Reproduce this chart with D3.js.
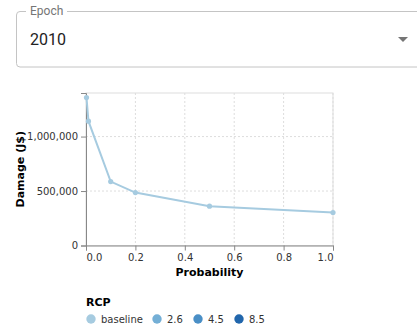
<!DOCTYPE html>
<html>
<head>
<meta charset="utf-8">
<script src="https://cdn.jsdelivr.net/npm/d3@7"></script>
<style>
  body { margin: 0; background: #fff; font-family: Roboto, "DejaVu Sans", sans-serif; }
  svg { display: block; }
</style>
</head>
<body>
<svg id="chart" width="417" height="334"></svg>
<script>
const epochLabel = "Epoch";
const epochValue = "2010";
const probabilities = [0.002, 0.01, 0.1, 0.2, 0.5, 1.0];
const damageBaseline = [1358000, 1141000, 587000, 486000, 361000, 303000];
const xTicks = [0.0, 0.2, 0.4, 0.6, 0.8, 1.0];
const yTicks = [0, 500000, 1000000];
const rcpCategories = ["baseline", "2.6", "4.5", "8.5"];
const rcpColors = ["#a6cbe0", "#74afd6", "#4a8fc6", "#2166ac"];

(function () {
const svg = d3.select("#chart");

// Select box (outlined)
const sel = svg.append("g");
sel.append("path")
  .attr("d", "M 26 11.5 L 20 11.5 Q 16.5 11.5 16.5 15 L 16.5 63.5 Q 16.5 67 20 67 L 420 67 M 67 11.5 L 420 11.5")
  .attr("fill", "none").attr("stroke", "#c4c4c4").attr("stroke-width", 1);
sel.append("text").attr("x", 30).attr("y", 15).attr("font-family", "Roboto, sans-serif")
  .attr("font-size", 12).attr("fill", "#757575").text(epochLabel);
sel.append("text").attr("x", 30).attr("y", 45).attr("font-family", "Roboto, sans-serif")
  .attr("font-size", 16).attr("fill", "#222").text(epochValue);
sel.append("path").attr("d", "M 398 37 L 408 37 L 403 42 Z").attr("fill", "#757575");

// Chart
const pLeft = 86, pRight = 333, pTop = 93, pBottom = 245.5;
const x = d3.scaleLinear().domain([0, 1]).range([pLeft, pRight]);
const y = d3.scaleLinear().domain([0, 1400000]).range([pBottom, pTop]);
const font = "'DejaVu Sans', sans-serif";

const g = svg.append("g");
g.append("rect").attr("x", pLeft).attr("y", pTop).attr("width", pRight - pLeft).attr("height", pBottom - pTop)
  .attr("fill", "none").attr("stroke", "#ddd");
g.selectAll(".gx").data(xTicks.slice(1)).join("line")
  .attr("x1", d => x(d)).attr("x2", d => x(d)).attr("y1", pTop).attr("y2", pBottom)
  .attr("stroke", "#ddd").attr("stroke-dasharray", "2,2");
g.selectAll(".gy").data(yTicks.slice(1)).join("line")
  .attr("x1", pLeft).attr("x2", pRight).attr("y1", d => y(d)).attr("y2", d => y(d))
  .attr("stroke", "#ddd").attr("stroke-dasharray", "2,2");

const xAxis = g.append("g").attr("transform", `translate(0,${pBottom})`)
  .call(d3.axisBottom(x).tickValues(xTicks).tickFormat(d3.format(".1f")).tickSizeOuter(0).tickSize(5));
xAxis.select(".domain").attr("stroke", "#888");
xAxis.selectAll(".tick line").attr("stroke", "#888");
xAxis.selectAll(".tick text").attr("font-family", font).attr("font-size", 10).attr("fill", "#333")
  .attr("text-anchor", (d, i) => i === 0 ? "start" : (i === xTicks.length - 1 ? "end" : "middle"));

const yAxis = g.append("g").attr("transform", `translate(${pLeft},0)`)
  .call(d3.axisLeft(y).tickValues(yTicks).tickFormat(d3.format(",")).tickSizeOuter(0).tickSize(5));
yAxis.select(".domain").attr("stroke", "#888");
yAxis.selectAll(".tick line").attr("stroke", "#888");
yAxis.selectAll(".tick text").attr("font-family", font).attr("font-size", 10).attr("fill", "#333");

g.append("text").attr("x", (pLeft + pRight) / 2).attr("y", 276).attr("text-anchor", "middle")
  .attr("font-family", font).attr("font-size", 11).attr("font-weight", "bold").attr("fill", "#000").text("Probability");
g.append("text").attr("transform", `translate(23.5,${(pTop + pBottom) / 2}) rotate(-90)`).attr("text-anchor", "middle")
  .attr("font-family", font).attr("font-size", 11).attr("font-weight", "bold").attr("fill", "#000").text("Damage (J$)");

const pts = probabilities.map((p, i) => [p, damageBaseline[i]]);
g.append("path").datum(pts)
  .attr("d", d3.line().x(d => x(d[0])).y(d => y(d[1])))
  .attr("fill", "none").attr("stroke", rcpColors[0]).attr("stroke-width", 2);
g.selectAll(".pt").data(pts).join("circle")
  .attr("cx", d => x(d[0])).attr("cy", d => y(d[1])).attr("r", 2.6).attr("fill", rcpColors[0]);

const lg = svg.append("g");
lg.append("text").attr("x", 86).attr("y", 306).attr("font-family", font).attr("font-size", 11)
  .attr("font-weight", "bold").attr("fill", "#000").text("RCP");
const lx = [91, 157, 198, 239];
rcpCategories.forEach((c, i) => {
  lg.append("circle").attr("cx", lx[i]).attr("cy", 319).attr("r", 4.7).attr("fill", rcpColors[i]);
  lg.append("text").attr("x", lx[i] + 10).attr("y", 322.5).attr("font-family", font).attr("font-size", 10)
    .attr("fill", "#333").text(c);
});
})();
</script>
</body>
</html>
